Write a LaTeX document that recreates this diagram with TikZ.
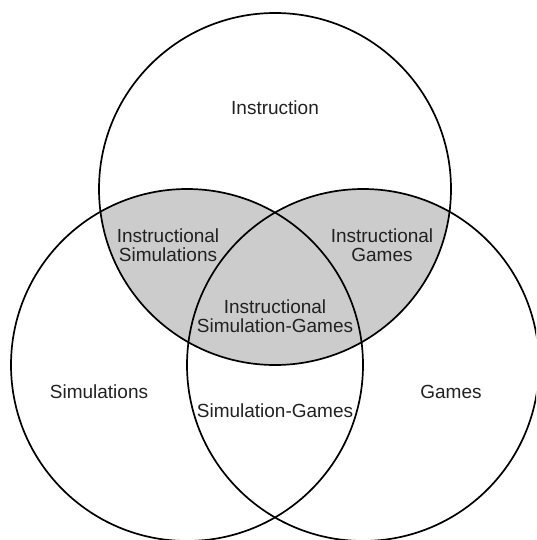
\documentclass[tikz,border=0pt]{standalone}
\usepackage{fontspec}
\setmainfont{Liberation Sans}
\definecolor{grayfill}{gray}{0.8}
\definecolor{ink}{gray}{0.13}
\tikzset{
  ring/.style={draw=black, line width=1.7pt},
  lbl/.style={text=ink, font=\fontsize{19}{19}\selectfont, align=center, inner sep=0pt}
}
\begin{document}
\begin{tikzpicture}[x=1pt,y=-1pt]
\useasboundingbox (0,0) rectangle (536,540);
\clip (0,0) rectangle (536,540);
\coordinate (cI) at (275,189);
\coordinate (cS) at (187,365);
\coordinate (cG) at (363,365);
\def\R{176}
% gray overlap
\begin{scope}
  \clip (cI) circle[radius=\R];
  \fill[fill=grayfill] (cS) circle[radius=\R];
  \fill[fill=grayfill] (cG) circle[radius=\R];
\end{scope}
\draw[ring] (cI) circle[radius=\R];
\draw[ring] (cS) circle[radius=\R];
\draw[ring] (cG) circle[radius=\R];
% labels
\node[lbl] (instr) at (275,108) {Instruction};
\node[lbl] (isim) at (168,245) {Instructional\\Simulations};
\node[lbl] (igam) at (382,245) {Instructional\\Games};
\node[lbl] (isg) at (275,316) {Instructional\\Simulation-Games};
\node[lbl] (sim) at (99,392) {Simulations};
\node[lbl] (gam) at (451,392) {Games};
\node[lbl] (sg) at (275,411) {Simulation-Games};
\end{tikzpicture}
\end{document}
